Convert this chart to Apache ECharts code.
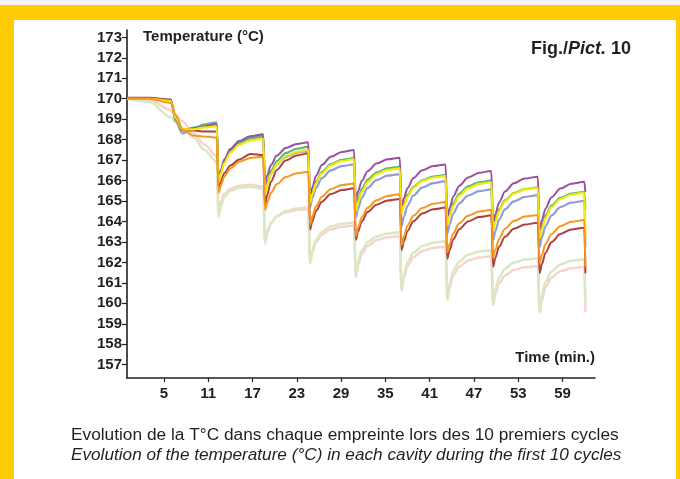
<!DOCTYPE html>
<html>
<head>
<meta charset="utf-8">
<script src="https://cdn.jsdelivr.net/npm/echarts@6/dist/echarts.min.js"></script>
<style>
  body { margin: 0; background: #f3f3f3; }
  .frame { position: absolute; left: 0; top: 5px; width: 680px; height: 474px; background: #ffcb05; }
  .panel { position: absolute; left: 14px; top: 20px; width: 662px; height: 459px; background: #fff; }
  #chart { position: absolute; left: 0; top: 0; width: 680px; height: 479px; }
</style>
</head>
<body>
<div class="frame"></div>
<div class="panel"></div>
<div id="chart"></div>
<script>
// time (min.) shared by every cavity
const minutes = [
  0, 3, 5.9, 6.6, 7.5, 9, 10.5, 12.15,
  12.4, 12.7, 13.2, 14.0, 15.2, 16.7, 18.45,
  18.7, 19.0, 19.5, 20.3, 21.5, 23.0, 24.55,
  24.8, 25.1, 25.6, 26.4, 27.6, 29.1, 30.75,
  31.0, 31.3, 31.8, 32.6, 33.8, 35.3, 36.95,
  37.2, 37.5, 38.0, 38.8, 40.0, 41.5, 43.15,
  43.4, 43.7, 44.2, 45.0, 46.2, 47.7, 49.35,
  49.6, 49.9, 50.4, 51.2, 52.4, 53.9, 55.65,
  55.9, 56.2, 56.7, 57.5, 58.7, 60.2, 61.95,
  62.1
]

// temperature (°C) per cavity
const tPurple = [
  170, 170, 169.95, 169.0, 168.45, 168.55, 168.65, 168.75,
  166.0, 166.45, 167.02, 167.54, 167.94, 168.17, 168.26,
  165.85, 166.25, 166.76, 167.22, 167.59, 167.79, 167.87,
  165.2, 165.66, 166.23, 166.76, 167.17, 167.4, 167.49,
  165.05, 165.46, 165.98, 166.46, 166.83, 167.04, 167.12,
  164.7, 165.12, 165.64, 166.12, 166.5, 166.71, 166.79,
  164.2, 164.65, 165.22, 165.74, 166.15, 166.38, 166.47,
  163.9, 164.36, 164.93, 165.46, 165.87, 166.1, 166.19,
  163.58, 164.05, 164.64, 165.18, 165.61, 165.85, 165.94,
  165.45
]
const tGreen = [
  170, 170, 169.95, 169.0, 168.45, 168.6, 168.7, 168.8,
  166.0, 166.43, 166.97, 167.46, 167.85, 168.06, 168.15,
  165.5, 165.93, 166.47, 166.96, 167.35, 167.56, 167.65,
  165.0, 165.42, 165.95, 166.43, 166.81, 167.02, 167.1,
  164.7, 165.1, 165.59, 166.05, 166.4, 166.6, 166.68,
  164.5, 164.85, 165.3, 165.7, 166.02, 166.2, 166.27,
  164.0, 164.4, 164.9, 165.36, 165.72, 165.92, 166.0,
  163.7, 164.09, 164.59, 165.04, 165.39, 165.59, 165.67,
  163.35, 163.77, 164.3, 164.78, 165.16, 165.37, 165.45,
  164.6
]
const tYellow = [
  170, 170, 169.9, 169.05, 168.5, 168.5, 168.6, 168.65,
  165.9, 166.33, 166.87, 167.36, 167.75, 167.96, 168.05,
  165.35, 165.78, 166.32, 166.81, 167.2, 167.41, 167.5,
  164.9, 165.33, 165.87, 166.36, 166.75, 166.96, 167.05,
  164.5, 164.92, 165.45, 165.93, 166.31, 166.52, 166.6,
  164.4, 164.76, 165.22, 165.64, 165.97, 166.15, 166.22,
  163.85, 164.26, 164.78, 165.26, 165.63, 165.84, 165.92,
  163.58, 163.99, 164.51, 164.99, 165.36, 165.57, 165.65,
  163.18, 163.63, 164.18, 164.7, 165.1, 165.32, 165.41,
  163.2
]
const tBlue = [
  170, 170, 169.95, 168.9, 168.3, 168.55, 168.75, 168.85,
  166.1, 166.52, 167.05, 167.53, 167.91, 168.12, 168.2,
  165.4, 165.81, 166.32, 166.79, 167.16, 167.37, 167.45,
  164.7, 165.12, 165.64, 166.12, 166.5, 166.71, 166.79,
  164.2, 164.62, 165.15, 165.64, 166.02, 166.24, 166.32,
  163.78, 164.22, 164.77, 165.27, 165.66, 165.88, 165.97,
  163.42, 163.85, 164.39, 164.88, 165.27, 165.48, 165.57,
  163.09, 163.53, 164.08, 164.59, 164.98, 165.2, 165.29,
  162.77, 163.22, 163.78, 164.29, 164.7, 164.92, 165.01,
  162.77
]
const tOrange = [
  170, 170, 169.8, 169.2, 168.5, 168.2, 168.15, 168.1,
  165.4, 165.75, 166.2, 166.6, 166.92, 167.1, 167.17,
  164.56, 164.93, 165.4, 165.83, 166.17, 166.36, 166.43,
  163.83, 164.24, 164.74, 165.21, 165.58, 165.78, 165.86,
  163.28, 163.69, 164.2, 164.67, 165.04, 165.25, 165.33,
  162.85, 163.27, 163.8, 164.28, 164.66, 164.87, 164.95,
  162.5, 162.91, 163.43, 163.91, 164.28, 164.49, 164.57,
  162.2, 162.62, 163.15, 163.64, 164.02, 164.24, 164.32,
  161.95, 162.37, 162.9, 163.39, 163.77, 163.99, 164.07,
  161.79
]
const tBrown = [
  170.05, 170.05, 169.95, 169.1, 168.5, 168.45, 168.4, 168.4,
  165.65, 165.97, 166.37, 166.74, 167.03, 167.3, 167.25,
  164.8, 165.31, 165.94, 166.52, 166.98, 167.23, 167.33,
  163.6, 164.0, 164.51, 164.97, 165.34, 165.54, 165.62,
  163.1, 163.5, 164.0, 164.46, 164.82, 165.02, 165.1,
  162.6, 163.02, 163.54, 164.01, 164.39, 164.6, 164.68,
  162.18, 162.6, 163.13, 163.62, 164.0, 164.22, 164.3,
  161.79, 162.22, 162.76, 163.25, 163.64, 163.85, 163.94,
  161.47, 161.92, 162.47, 162.99, 163.39, 163.61, 163.7,
  161.47
]
const tPink = [
  170, 169.95, 169.45, 169.2, 168.9, 168.3, 167.75, 167.2,
  164.5, 164.95, 165.35, 165.6, 165.75, 165.8, 165.7,
  163.1, 163.52, 163.94, 164.24, 164.45, 164.56, 164.6,
  161.95, 162.47, 162.99, 163.36, 163.62, 163.74, 163.8,
  161.3, 161.86, 162.41, 162.81, 163.09, 163.23, 163.29,
  160.65, 161.24, 161.84, 162.26, 162.56, 162.71, 162.77,
  160.18, 160.77, 161.37, 161.79, 162.09, 162.24, 162.3,
  159.92, 160.45, 160.98, 161.36, 161.63, 161.76, 161.82,
  159.54, 160.17, 160.8, 161.25, 161.57, 161.72, 161.79,
  159.59
]
const tLightGreen = [
  170, 169.85, 169.1, 168.85, 168.6, 168.1, 167.5, 166.9,
  164.25, 164.75, 165.2, 165.5, 165.65, 165.7, 165.6,
  162.93, 163.42, 163.92, 164.27, 164.51, 164.64, 164.69,
  162.03, 162.57, 163.11, 163.49, 163.76, 163.89, 163.95,
  161.5, 162.05, 162.6, 163.0, 163.27, 163.41, 163.47,
  160.73, 161.37, 162.02, 162.48, 162.8, 162.96, 163.03,
  160.32, 160.96, 161.6, 162.05, 162.37, 162.53, 162.6,
  160.08, 160.67, 161.27, 161.69, 161.99, 162.14, 162.2,
  159.68, 160.37, 161.06, 161.56, 161.9, 162.08, 162.15,
  160.1
]

const yTicks = [157, 158, 159, 160, 161, 162, 163, 164, 165, 166, 167, 168, 169, 170, 171, 172, 173]
const xTicks = [5, 11, 17, 23, 29, 35, 41, 47, 53, 59]

const ink = '#231f20'
const font = 'Liberation Sans, Arial, Helvetica, sans-serif'

// drawing order: pale curves underneath
const cavities = [
  { vals: tPink, color: '#f9d2cf', width: 2.5 },
  { vals: tLightGreen, color: '#d9e8c3', width: 2.5 },
  { vals: tBlue, color: '#8f9fd6', width: 2.2 },
  { vals: tGreen, color: '#52b77c', width: 2 },
  { vals: tPurple, color: '#9b4f9f', width: 2 },
  { vals: tBrown, color: '#ad4140', width: 2 },
  { vals: tYellow, color: '#f4ea00', width: 2.2 },
  { vals: tOrange, color: '#f7971e', width: 2 }
]

const chart = echarts.init(document.getElementById('chart'), null, { renderer: 'canvas' })

chart.setOption({
  animation: false,
  backgroundColor: 'transparent',
  title: {
    left: 526,
    top: 35,
    text: '{n|Fig./}{i|Pict.}{n| 10}',
    textStyle: {
      rich: {
        n: { fontFamily: font, fontSize: 18, color: ink },
        i: { fontFamily: font, fontSize: 18, fontStyle: 'italic', color: ink }
      }
    }
  },
  grid: { left: 127, right: 85, top: 30, bottom: 101, outerBoundsMode: 'none' },
  xAxis: {
    type: 'value',
    min: 0,
    max: 63.4,
    name: 'Time (min.)',
    nameLocation: 'end',
    nameGap: 0,
    nameTextStyle: {
      fontFamily: font, fontSize: 15, fontWeight: 'bold', color: ink,
      align: 'right', verticalAlign: 'bottom', padding: [0, 0, 13, 0]
    },
    splitLine: { show: false },
    axisLine: { lineStyle: { color: ink, width: 1.6 } },
    axisTick: { customValues: xTicks, length: 4, lineStyle: { color: ink, width: 1.2 } },
    axisLabel: {
      customValues: xTicks, margin: 8,
      fontFamily: font, fontSize: 15, fontWeight: 'bold', color: ink
    }
  },
  yAxis: {
    type: 'value',
    min: 156.35,
    max: 173.36,
    name: 'Temperature (°C)',
    nameLocation: 'end',
    nameGap: -7,
    nameTextStyle: {
      fontFamily: font, fontSize: 15, fontWeight: 'bold', color: ink,
      align: 'left', verticalAlign: 'middle', padding: [0, 0, 0, 16]
    },
    splitLine: { show: false },
    axisLine: { show: true, lineStyle: { color: ink, width: 1.6 } },
    axisTick: { show: true, customValues: yTicks, length: 5, lineStyle: { color: ink, width: 1.2 } },
    axisLabel: {
      customValues: yTicks, margin: 5,
      fontFamily: font, fontSize: 15, fontWeight: 'bold', color: ink
    }
  },
  graphic: [
    {
      type: 'text', left: 71, top: 427,
      style: {
        text: 'Evolution de la T°C dans chaque empreinte lors des 10 premiers cycles',
        font: '17.3px ' + font, fill: ink
      }
    },
    {
      type: 'text', left: 71, top: 447,
      style: {
        text: 'Evolution of the temperature (°C) in each cavity during the first 10 cycles',
        font: 'italic 17.2px ' + font, fill: ink
      }
    }
  ],
  series: cavities.map(c => ({
    type: 'line',
    showSymbol: false,
    smooth: 0.3,
    smoothMonotone: 'x',
    lineStyle: { color: c.color, width: c.width },
    data: minutes.map((t, i) => [t, c.vals[i]])
  }))
})
</script>
</body>
</html>
